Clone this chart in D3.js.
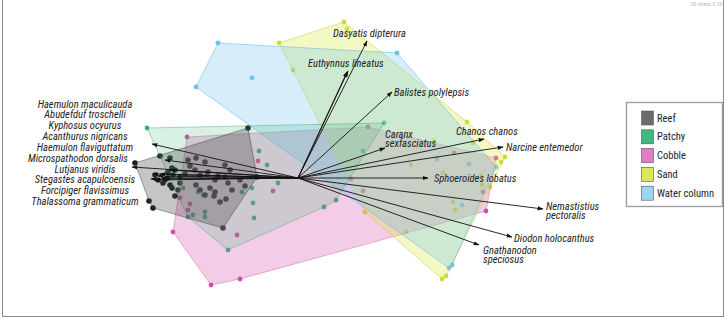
<!DOCTYPE html>
<html><head><meta charset="utf-8">
<script src="https://cdn.jsdelivr.net/npm/d3@7"></script>
<style>
html,body{margin:0;padding:0;background:#fff;}
svg{display:block;}
text{font-family:"Liberation Sans Narrow","Roboto Condensed","DejaVu Sans Condensed","Arial Narrow",sans-serif;}
</style>
</head><body>
<svg id="c" width="728" height="319"></svg>
<script>
// ---------- DATA (NMDS1, NMDS2) ----------
const groups = ["Reef", "Patchy", "Cobble", "Sand", "Water column"];

const reef = [[-0.25,0.25],[-0.205,0.005],[-0.375,-0.25],[-0.725,-0.15],[-0.745,-0.115],[-0.815,0.075],
 [-0.69,0.11],[-0.64,0.10],[-0.63,0.05],[-0.615,0.04],[-0.625,0.015],[-0.65,0.03],[-0.665,-0.01],
 [-0.675,-0.025],[-0.64,-0.035],[-0.63,-0.05],[-0.60,-0.06],[-0.65,0],[-0.715,0.015],[-0.70,-0.01],
 [-0.59,0.005],[-0.565,0.02],[-0.54,0.06],[-0.515,0.04],[-0.49,0.015],[-0.51,-0.035],[-0.49,-0.06],
 [-0.465,-0.085],[-0.44,-0.05],[-0.415,-0.01],[-0.40,0.01],[-0.45,0.03],[-0.365,0.005],[-0.35,-0.025],
 [-0.415,-0.07],[-0.365,0.065],[-0.465,0.08],[-0.55,0.09],[-0.34,0.04],[-0.29,-0.01],[-0.265,-0.04],
 [-0.36,-0.105],[-0.39,-0.12],[-0.42,-0.09],[-0.51,0.10],[-0.33,-0.06],[-0.615,-0.09],[-0.59,-0.025]];

const patchy = [[-0.755,0.25],[0.43,0.275],[0.19,-0.11],[0.13,-0.145],[-0.35,-0.36],[0.325,0.135],
 [-0.195,0.135],[-0.155,0.065],[-0.10,-0.025],[-0.23,-0.05],[-0.28,-0.07],[-0.225,-0.125],[-0.22,-0.20],
 [-0.575,-0.05],[-0.50,-0.07],[-0.475,-0.085],[-0.465,-0.17],[-0.465,-0.195],[-0.525,-0.185],
 [-0.455,0.015],[-0.55,-0.195]];

const cobble = [[-0.555,0.205],[0.35,0.255],[0.99,0.10],[0.94,-0.165],[-0.29,-0.505],[-0.435,-0.535],
 [-0.625,-0.27],[0.78,0.125],[0.925,-0.07],[-0.20,0.085],[-0.125,-0.065],[0.265,-0.005],[0.325,-0.065],
 [-0.305,-0.285],[-0.59,-0.10],[-0.54,-0.13],[-0.55,-0.16]];

const sand = [[-0.095,0.675],[0.23,0.78],[0.245,0.745],[0.845,0.28],[1.035,0.105],[0.72,-0.505],[0.335,-0.17],
 [-0.025,0.54],[0.565,0.065],[0.68,0.185],[0.725,0.025],[0.775,-0.12],[0.785,-0.16],[0.92,-0.035],
 [0.915,0.01],[0.96,-0.045],[0.875,0.175],[0.54,-0.27],[1.015,0.08],[0.74,-0.49]];

const water = [[-0.40,0.675],[0.495,0.625],[-0.51,0.455],[-0.23,0.50],[0.99,0.055],[0.77,-0.435],
 [0.695,0.095],[0.855,0.07],[0.82,-0.135],[0.755,-0.45]];

// species vectors (right side)
const rightSpecies = ["Dasyatis dipterura","Euthynnus lineatus","Balistes polylepsis","Caranx\nsexfasciatus",
 "Chanos chanos","Narcine entemedor","Sphoeroides lobatus","Nemastistius\npectoralis","Diodon holocanthus",
 "Gnathanodon\nspeciosus"];
const rightVecX = [0.345, 0.25, 0.47, 0.435, 0.93, 1.025, 0.65, 1.225, 1.07, 0.905];
const rightVecY = [0.685, 0.535, 0.43, 0.15, 0.195, 0.155, 0.0, -0.155, -0.295, -0.335];
const extraVecX = [0.245];   // second, nearly overlapping vector near Euthynnus
const extraVecY = [0.53];

// species vectors (left side)
const leftSpecies = ["Haemulon maculicauda","Abudefduf troschelli","Kyphosus ocyurus","Acanthurus nigricans",
 "Haemulon flaviguttatum","Microspathodon dorsalis","Lutjanus viridis","Stegastes acapulcoensis",
 "Forcipiger flavissimus","Thalassoma grammaticum"];
const leftVecX = [-0.73, -0.665, -0.64, -0.69, -0.725, -0.83, -0.715, -0.735, -0.68, -0.70];
const leftVecY = [0.17, 0.09, 0.04, 0.02, 0.02, 0.055, -0.01, -0.005, 0.0, 0.01];

const stressLabel = "2D stress 0.18";

// ---------- LAYOUT / STYLE ----------
const W = 728, H = 319;
const x = d3.scaleLinear().domain([-1.49, 2.15]).range([0, W]);
const y = d3.scaleLinear().domain([0.89, -0.705]).range([0, H]);

const style = {
  "Reef":         {pt:"#1c1c1c", fill:"rgba(75,75,75,0.32)",  stroke:"rgba(50,50,50,0.55)",  sw:"#6b6b6d", r:2.8},
  "Patchy":       {pt:"#36b473", fill:"rgba(60,185,120,0.20)", stroke:"rgba(50,160,100,0.5)", sw:"#3fba7e", r:2.4},
  "Cobble":       {pt:"#d24ea3", fill:"rgba(215,85,175,0.30)", stroke:"rgba(200,80,160,0.5)", sw:"#e07dc6", r:2.4},
  "Sand":         {pt:"#cfdd36", fill:"rgba(222,232,70,0.32)", stroke:"rgba(190,200,60,0.6)", sw:"#dde65a", r:2.4},
  "Water column": {pt:"#6cc4ee", fill:"rgba(115,198,240,0.30)", stroke:"rgba(90,175,225,0.6)", sw:"#97d7f3", r:2.4}
};
const groupData = {"Reef":reef, "Patchy":patchy, "Cobble":cobble, "Sand":sand, "Water column":water};
const hullOrder = ["Cobble","Sand","Water column","Patchy","Reef"];

const svg = d3.select("#c");
svg.append("rect").attr("width",W).attr("height",H).attr("fill","#fff");

// frame
svg.append("rect").attr("x",2.5).attr("y",-1).attr("width",721).attr("height",317.5)
  .attr("fill","none").attr("stroke","#8a8a8a").attr("stroke-width",1);

// points first (hull fills sit above them)
const gPts = svg.append("g");
hullOrder.forEach(g => {
  gPts.selectAll(null).data(groupData[g]).join("circle")
    .attr("cx", d => x(d[0])).attr("cy", d => y(d[1])).attr("r", style[g].r)
    .attr("fill", style[g].pt);
});

// hulls
const gHull = svg.append("g");
hullOrder.forEach(g => {
  const pts = groupData[g].map(d => [x(d[0]), y(d[1])]);
  const hull = d3.polygonHull(pts);
  gHull.append("path").attr("d", "M" + hull.join("L") + "Z")
    .attr("fill", style[g].fill).attr("stroke", style[g].stroke).attr("stroke-width", 0.8);
});

// arrow marker
svg.append("defs").append("marker").attr("id","ah").attr("viewBox","0 0 10 10")
  .attr("refX",9).attr("refY",5).attr("markerWidth",6).attr("markerHeight",6)
  .attr("markerUnits","userSpaceOnUse").attr("orient","auto")
  .append("path").attr("d","M0,1.5L10,5L0,8.5Z").attr("fill","#111");

const gVec = svg.append("g");
const ox = x(0), oy = y(0);
function vec(vx, vy){
  gVec.append("line").attr("x1",ox).attr("y1",oy).attr("x2",x(vx)).attr("y2",y(vy))
    .attr("stroke","#111").attr("stroke-width",0.9).attr("marker-end","url(#ah)");
}
leftVecX.forEach((v,i) => vec(v, leftVecY[i]));
rightVecX.forEach((v,i) => vec(v, rightVecY[i]));
extraVecX.forEach((v,i) => vec(v, extraVecY[i]));

// right labels, offsets from arrow tips (px): [dx, dy]
const rightLabelOff = [[-34,-8],[-40,-8],[2,0],[0,-14],[-28,-8],[3,0],[6,0],[3,-3],[2,1],[4,5]];
const gLab = svg.append("g").attr("font-size",10.5).attr("font-style","italic").attr("fill","#222");
rightSpecies.forEach((s,i) => {
  const lines = s.split("\n");
  const t = gLab.append("text").attr("x", x(rightVecX[i]) + rightLabelOff[i][0])
    .attr("y", y(rightVecY[i]) + rightLabelOff[i][1]).attr("dominant-baseline","central");
  lines.forEach((ln,j) => t.append("tspan").attr("x", x(rightVecX[i]) + rightLabelOff[i][0])
    .attr("dy", j === 0 ? 0 : 8.8).text(ln));
});

// left labels column
const leftColX = 85, leftTop = 104, leftStep = 10.85;
leftSpecies.forEach((s,i) => {
  gLab.append("text").attr("x", s.startsWith("Microspathodon") ? 78 : leftColX)
    .attr("y", leftTop + i*leftStep).attr("text-anchor","middle")
    .attr("dominant-baseline","central").text(s);
});

// stress label
svg.append("text").attr("x",722).attr("y",6).attr("text-anchor","end")
  .attr("font-size",5.5).attr("fill","#b8b8b8").text(stressLabel);

// legend
const lg = svg.append("g");
lg.append("rect").attr("x",626.5).attr("y",102.5).attr("width",96).attr("height",104)
  .attr("fill","#fff").attr("stroke","#9a9a9a").attr("stroke-width",1.3);
groups.forEach((g,i) => {
  const cy = 118 + i*18.8;
  lg.append("rect").attr("x",641.5).attr("y",cy-7).attr("width",12).attr("height",14)
    .attr("fill",style[g].sw).attr("stroke","#555").attr("stroke-width",0.6);
  lg.append("text").attr("x",657).attr("y",cy).attr("dominant-baseline","central")
    .attr("font-size",10.5).attr("fill","#222").text(g);
});
</script>
</body></html>
